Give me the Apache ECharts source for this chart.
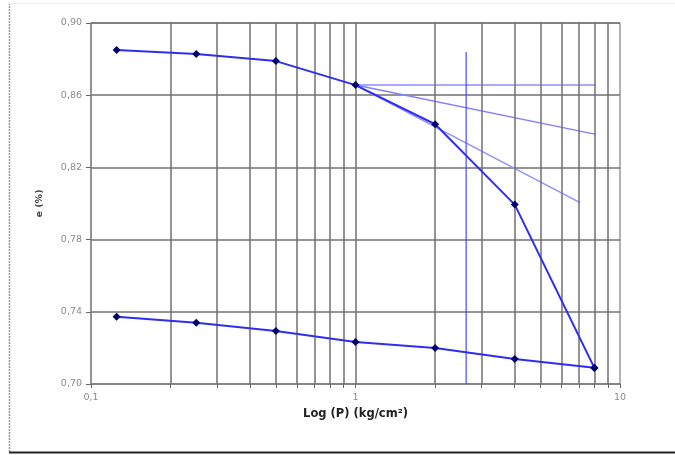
<!DOCTYPE html>
<html><head><meta charset="utf-8">
<script src="https://cdn.jsdelivr.net/npm/echarts@6/dist/echarts.min.js"></script>
<style>html,body{margin:0;padding:0;background:#fff}#c{width:675px;height:455px}</style>
</head><body><div id="c"></div>
<script>
// Pressure (kg/cm²)
const pressures = [0.125, 0.25, 0.5, 1, 2, 4, 8];
// Loading branch
const loading = [0.885, 0.8828, 0.8789, 0.8656, 0.8439, 0.7994, 0.7089];
// Unloading branch (same pressures)
const unloading = [0.7372, 0.7339, 0.7294, 0.7233, 0.7200, 0.7139, 0.7090];
// Construction lines
const horizLine = [[1, 0.8656], [8.1, 0.8656]];
const tangentLine = [[1, 0.8656], [8.1, 0.8383]];
const steepLine = [[1, 0.8656], [7.06, 0.8005]];
const verticalLine = [[2.62, 0.70], [2.62, 0.8839]];
// Axis ticks
const xTicks = [0.1,0.2,0.3,0.4,0.5,0.6,0.7,0.8,0.9,1,2,3,4,5,6,7,8,9,10];
const xLabels = [0.1, 1, 10];
const yTicks = [0.70, 0.74, 0.78, 0.82, 0.86, 0.90];

const fmt = v => String(v).replace('.', ',');
const yfmt = v => v.toFixed(2).replace('.', ',');

const gridVals = xTicks.filter(v => v !== 0.1 && v !== 10);

const chart = echarts.init(document.getElementById('c'), null, {renderer: 'canvas'});
chart.setOption({
  animation: false,
  backgroundColor: '#fff',
  grid: {left: 91, right: 55, top: 23, bottom: 71, show: true, borderColor: '#666', borderWidth: 1},
  graphic: [
    {type: 'line', shape: {x1: 9.5, y1: 3, x2: 9.5, y2: 452}, style: {stroke: '#999', lineWidth: 1.5, lineDash: [2, 1]}},
    {type: 'line', shape: {x1: 9, y1: 452.5, x2: 675, y2: 452.5}, style: {stroke: '#222', lineWidth: 2}},
    {type: 'line', shape: {x1: 9, y1: 3.5, x2: 675, y2: 3.5}, style: {stroke: '#eee', lineWidth: 1}}
  ],
  xAxis: {
    type: 'log', logBase: 10, min: 0.1, max: 10,
    name: 'Log (P) (kg/cm²)', nameLocation: 'middle', nameGap: 21,
    nameTextStyle: {fontFamily: 'DejaVu Sans', fontSize: 11.5, fontWeight: 'bold', color: '#222'},
    axisLine: {show: true, onZero: false, lineStyle: {color: '#888', width: 1.5}},
    axisTick: {show: true, customValues: xTicks, length: 4, inside: false, lineStyle: {color: '#666'}},
    axisLabel: {customValues: xLabels, formatter: fmt, fontFamily: 'DejaVu Sans', fontSize: 9.5, color: '#8a8a8a', margin: 9},
    splitLine: {show: false},
    minorTick: {show: false}, minorSplitLine: {show: false}
  },
  yAxis: {
    type: 'value', min: 0.70, max: 0.90, interval: 0.04,
    name: 'e (%)', nameLocation: 'middle', nameGap: 46,
    nameTextStyle: {fontFamily: 'DejaVu Sans', fontSize: 9.5, fontWeight: 'bold', color: '#444'},
    axisLine: {show: true, lineStyle: {color: '#888', width: 1.5}},
    axisTick: {show: true, length: 5, lineStyle: {color: '#666'}},
    axisLabel: {formatter: yfmt, fontFamily: 'DejaVu Sans', fontSize: 9.5, color: '#8a8a8a', margin: 9},
    splitLine: {show: true, lineStyle: {color: '#707070', width: 1.5}}
  },
  series: [
    {
      type: 'line', data: pressures.map((p, i) => [p, loading[i]]),
      symbol: 'diamond', symbolSize: 8, itemStyle: {color: '#00006e'},
      lineStyle: {color: '#2e2ef0', width: 2}, z: 5,
      markLine: {
        silent: true, symbol: ['none', 'none'], label: {show: false},
        lineStyle: {color: '#707070', width: 1.5, type: 'solid'},
        data: gridVals.map(v => ({xAxis: v}))
      }
    },
    {
      type: 'line', data: pressures.map((p, i) => [p, unloading[i]]),
      symbol: 'diamond', symbolSize: 8, itemStyle: {color: '#00006e'},
      lineStyle: {color: '#2e2ef0', width: 2}, z: 5
    },
    {type: 'line', data: horizLine, symbol: 'none', lineStyle: {color: '#a8a8ff', width: 2}, z: 4},
    {type: 'line', data: tangentLine, symbol: 'none', lineStyle: {color: '#8080ff', width: 1.5}, z: 4},
    {type: 'line', data: steepLine, symbol: 'none', lineStyle: {color: '#9090ff', width: 1.5}, z: 4},
    {type: 'line', data: verticalLine, symbol: 'none', lineStyle: {color: '#4848ff', width: 1.2}, z: 4}
  ]
});
</script></body></html>
